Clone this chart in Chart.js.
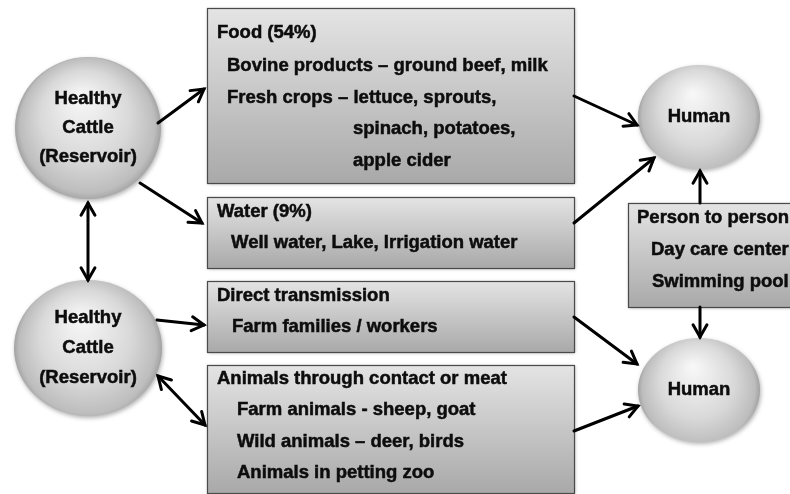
<!DOCTYPE html>
<html>
<head>
<meta charset="utf-8">
<script src="https://cdn.jsdelivr.net/npm/chart.js@4"></script>
<style>
  html, body { margin: 0; padding: 0; background: #fff; }
  #diagram { display: block; }
</style>
</head>
<body>
<canvas id="diagram" width="790" height="494"></canvas>
<script>
// Diagram content
const cattleLabel = ['Healthy', 'Cattle', '(Reservoir)'];
const humanLabel = ['Human'];
const boxTitles = ['Food (54%)', 'Water (9%)', 'Direct transmission', 'Animals through contact or meat', 'Person to person'];
const boxItems = [
    ['Bovine products \u2013 ground beef, milk', 'Fresh crops \u2013 lettuce, sprouts,', 'spinach, potatoes,', 'apple cider'],
    ['Well water, Lake, Irrigation water'],
    ['Farm families / workers'],
    ['Farm animals - sheep, goat', 'Wild animals \u2013 deer, birds', 'Animals in petting zoo'],
    ['Day care center', 'Swimming pool']
];

// Layout (in axis units, 0..790 x 0..494)
const ovals = [
    { cx: 88, cy: 128, rx: 73, ry: 71, label: cattleLabel, gap: 29 },
    { cx: 88, cy: 348, rx: 74, ry: 68, label: cattleLabel, gap: 30 },
    { cx: 699, cy: 117, rx: 61, ry: 52, label: humanLabel, gap: 0 },
    { cx: 699, cy: 390, rx: 61, ry: 52, label: humanLabel, gap: 0 }
];
const boxes = [
    { x: 207, y: 8, w: 367, h: 175, titleY: 33, itemX: [227, 227, 353, 353], itemY: [66, 98, 129, 161] },
    { x: 207, y: 197, w: 367, h: 71, titleY: 212, itemX: [231], itemY: [243] },
    { x: 207, y: 281, w: 367, h: 71, titleY: 296, itemX: [232], itemY: [327] },
    { x: 207, y: 365, w: 367, h: 128, titleY: 379, itemX: [237, 237, 237], itemY: [410, 442, 473] },
    { x: 628, y: 203, w: 170, h: 104, titleY: 218, titleX: 637, itemX: [651, 652], itemY: [250, 282] }
];
// [x1, y1, x2, y2, doubleHeaded]
const arrows = [
    [158, 123, 204, 89, false],
    [140, 183, 202, 223, false],
    [88, 203, 88, 280, true],
    [574, 96, 637, 125, false],
    [574, 223, 654, 158, false],
    [700, 203, 700, 171, false],
    [700, 307, 700, 337, false],
    [157, 320, 204, 325, false],
    [158, 376, 205, 425, true],
    [574, 317, 637, 364, false],
    [574, 431, 638, 406, false]
];

const FONT = 'bold 18.5px "Liberation Sans", Arial, sans-serif';

const diagramPlugin = {
    id: 'diagram',
    afterDatasetsDraw(chart) {
        const ctx = chart.ctx;
        const sx = chart.scales.x, sy = chart.scales.y;
        const px = v => sx.getPixelForValue(v);
        const py = v => sy.getPixelForValue(v);

        // bold-ish text like the original slide
        const label = (t, x, y) => {
            ctx.fillText(t, x, y);
            ctx.strokeText(t, x, y);
        };

        ctx.save();

        // boxes
        boxes.forEach((b, i) => {
            const x = px(b.x), y = py(b.y);
            const w = px(b.x + b.w) - x, h = py(b.y + b.h) - y;
            ctx.save();
            ctx.shadowColor = 'rgba(0,0,0,0.35)';
            ctx.shadowBlur = 3;
            ctx.shadowOffsetX = 1;
            ctx.shadowOffsetY = 1;
            const g = ctx.createLinearGradient(0, y, 0, y + h);
            g.addColorStop(0, '#e4e4e4');
            g.addColorStop(1, '#a9a9a9');
            ctx.fillStyle = g;
            ctx.fillRect(x, y, w, h);
            ctx.restore();
            ctx.strokeStyle = '#4a4a4a';
            ctx.lineWidth = 1.2;
            ctx.strokeRect(x + 0.5, y + 0.5, w, h);

            ctx.fillStyle = '#0d0d0d';
            ctx.strokeStyle = '#0d0d0d';
            ctx.lineWidth = 0.5;
            ctx.font = FONT;
            ctx.textBaseline = 'middle';
            ctx.textAlign = 'left';
            label(boxTitles[i], px(b.titleX || 217), py(b.titleY));
            boxItems[i].forEach((t, j) => {
                label(t, px(b.itemX[j]), py(b.itemY[j]));
            });
        });

        // ovals
        ovals.forEach(o => {
            const cx = px(o.cx), cy = py(o.cy);
            const rx = px(o.cx + o.rx) - cx, ry = Math.abs(py(o.cy + o.ry) - cy);
            ctx.save();
            ctx.shadowColor = 'rgba(0,0,0,0.3)';
            ctx.shadowBlur = 4;
            ctx.shadowOffsetX = 1;
            ctx.shadowOffsetY = 2;
            ctx.beginPath();
            ctx.ellipse(cx, cy, rx, ry, 0, 0, Math.PI * 2);
            const g = ctx.createRadialGradient(cx - rx * 0.1, cy - ry * 0.45, 2, cx, cy, Math.max(rx, ry));
            g.addColorStop(0, '#f7f7f7');
            g.addColorStop(0.6, '#d9d9d9');
            g.addColorStop(0.92, '#bdbdbd');
            g.addColorStop(1, '#a2a2a2');
            ctx.fillStyle = g;
            ctx.fill();
            ctx.restore();

            ctx.fillStyle = '#0d0d0d';
            ctx.strokeStyle = '#0d0d0d';
            ctx.lineWidth = 0.5;
            ctx.font = FONT;
            ctx.textAlign = 'center';
            ctx.textBaseline = 'middle';
            const n = o.label.length;
            o.label.forEach((t, j) => {
                label(t, cx, cy + (j - (n - 1) / 2) * o.gap);
            });
        });

        // arrows
        ctx.strokeStyle = '#000';
        ctx.lineWidth = 3;
        ctx.lineCap = 'round';
        ctx.lineJoin = 'miter';
        const head = (x1, y1, x2, y2) => {
            const a = Math.atan2(y2 - y1, x2 - x1);
            const L = 14, s = 0.52;
            ctx.beginPath();
            ctx.moveTo(x2 - L * Math.cos(a - s), y2 - L * Math.sin(a - s));
            ctx.lineTo(x2, y2);
            ctx.lineTo(x2 - L * Math.cos(a + s), y2 - L * Math.sin(a + s));
            ctx.stroke();
        };
        arrows.forEach(([a, b, c, d, both]) => {
            const x1 = px(a), y1 = py(b), x2 = px(c), y2 = py(d);
            ctx.beginPath();
            ctx.moveTo(x1, y1);
            ctx.lineTo(x2, y2);
            ctx.stroke();
            head(x1, y1, x2, y2);
            if (both) head(x2, y2, x1, y1);
        });

        ctx.restore();
    }
};

new Chart(document.getElementById('diagram'), {
    type: 'scatter',
    data: { datasets: [{ data: [], pointRadius: 0 }] },
    options: {
        responsive: false,
        animation: false,
        layout: { padding: 0 },
        plugins: { legend: { display: false }, tooltip: { enabled: false } },
        scales: {
            x: { type: 'linear', min: 0, max: 790, display: false },
            y: { type: 'linear', min: 0, max: 494, reverse: true, display: false }
        }
    },
    plugins: [diagramPlugin]
});
</script>
</body>
</html>
